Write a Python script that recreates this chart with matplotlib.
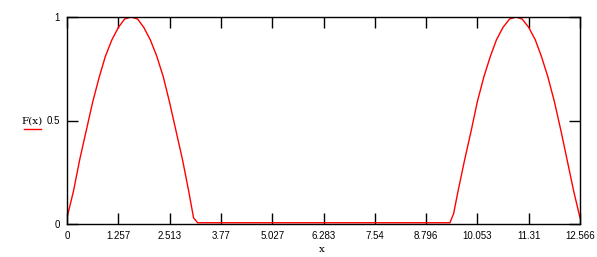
import numpy as np
import matplotlib
matplotlib.use("Agg")
import matplotlib.pyplot as plt
from matplotlib.lines import Line2D

# values (first hump, flat part, second hump)
x_hump1 = [0.0, 0.16, 0.31, 0.47, 0.63, 0.79, 0.94, 1.10, 1.26, 1.41, 1.57,
           1.73, 1.88, 2.04, 2.20, 2.36, 2.51, 2.67, 2.83, 2.98, 3.10, 3.20]
y_hump1 = [0.03, 0.16, 0.31, 0.45, 0.59, 0.71, 0.81, 0.89, 0.95, 0.99, 1.00,
           0.99, 0.95, 0.89, 0.81, 0.71, 0.59, 0.45, 0.31, 0.16, 0.03, 0.006]
x_flat = [3.20, 9.38]
y_flat = [0.006, 0.006]
x_hump2 = [9.38, 9.47, 9.58, 9.74, 9.90, 10.05, 10.21, 10.37, 10.52, 10.68,
           10.84, 11.00, 11.15, 11.31, 11.47, 11.62, 11.78, 11.94, 12.10,
           12.25, 12.41, 12.566]
y_hump2 = [0.006, 0.05, 0.16, 0.31, 0.45, 0.59, 0.71, 0.81, 0.89, 0.95, 0.99,
           1.00, 0.99, 0.95, 0.89, 0.81, 0.71, 0.59, 0.45, 0.31, 0.16, 0.03]

x_ticks = [0, 1.257, 2.513, 3.77, 5.027, 6.283, 7.54, 8.796, 10.053, 11.31, 12.566]
x_tick_labels = ["0", "1.257", "2.513", "3.77", "5.027", "6.283", "7.54",
                 "8.796", "10.053", "11.31", "12.566"]
y_ticks = [0, 0.5, 1]
y_tick_labels = ["0", "0.5", "1"]

xs = np.concatenate([x_hump1, x_flat, x_hump2])
ys = np.concatenate([y_hump1, y_flat, y_hump2])

fig = plt.figure(figsize=(5.97, 2.57), dpi=100)
ax = fig.add_axes([67 / 597, 1 - 224 / 257, 513 / 597, 207 / 257])
ax.plot(xs, ys, color="red", lw=1.0)
ax.set_xlim(0, 12.566)
ax.set_ylim(0, 1)

ax.set_xticks(x_ticks)
ax.set_xticklabels(x_tick_labels)
ax.set_yticks(y_ticks)
ax.set_yticklabels(y_tick_labels)
ax.tick_params(direction="in", length=8, width=1, top=True, right=True,
               labelsize=7, pad=5, colors="black")
for lab in ax.get_xticklabels() + ax.get_yticklabels():
    lab.set_family("Liberation Sans")
for sp in ax.spines.values():
    sp.set_linewidth(1.0)

# axis labels, Mathcad style: trace name with the trace colour underneath
fig.text(322 / 597, 1 - 249 / 257, "x", ha="center", va="center",
         family="DejaVu Serif", fontsize=7.5)
fig.text(32 / 597, 1 - 121 / 257, "F(x)", ha="center", va="center",
         family="DejaVu Serif", fontsize=7.5)
fig.add_artist(Line2D([24 / 597, 41 / 597], [1 - 129 / 257, 1 - 129 / 257],
                      color="red", lw=1.0, transform=fig.transFigure))

fig.savefig("out.png", dpi=100)
